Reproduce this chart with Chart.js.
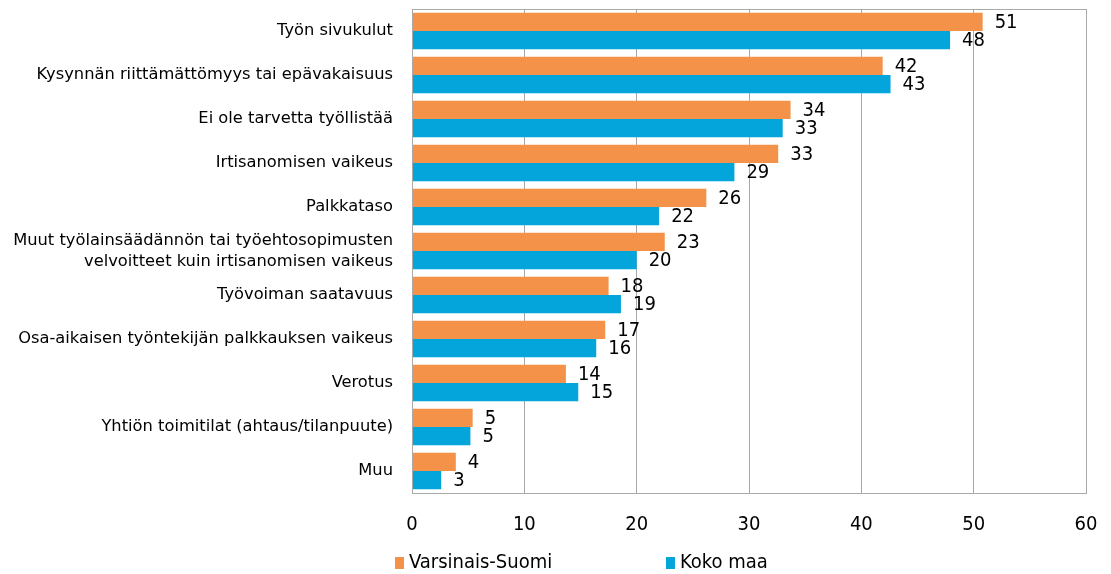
<!DOCTYPE html>
<html>
<head>
<meta charset="utf-8">
<script src="https://cdn.jsdelivr.net/npm/chart.js@4"></script>
<style>
	body { margin: 0; background: #fff; }
	#wrap { position: relative; width: 1111px; height: 574px; }
	#legend { position: absolute; left: 0; top: 549px; width: 1111px; height: 25px;
		font-family: 'DejaVu Sans Condensed', sans-serif; font-size: 20px; color: #000; }
	.item { position: absolute; top: 0; white-space: nowrap; }
	.box { display: inline-block; width: 9px; height: 12px; margin-right: 5px; vertical-align: -1px; }
</style>
</head>
<body>
<div id="wrap">
	<canvas id="chart" width="1111" height="574"></canvas>
	<div id="legend"></div>
</div>
<script>
// chart data
var categories = [
	"Työn sivukulut",
	"Kysynnän riittämättömyys tai epävakaisuus",
	"Ei ole tarvetta työllistää",
	"Irtisanomisen vaikeus",
	"Palkkataso",
	["Muut työlainsäädännön tai työehtosopimusten", "velvoitteet kuin irtisanomisen vaikeus"],
	"Työvoiman saatavuus",
	"Osa-aikaisen työntekijän palkkauksen vaikeus",
	"Verotus",
	"Yhtiön toimitilat (ahtaus/tilanpuute)",
	"Muu"
];
var seriesNames = ["Varsinais-Suomi", "Koko maa"];
var varsinaisSuomi = [50.8, 41.9, 33.7, 32.6, 26.2, 22.5, 17.5, 17.2, 13.7, 5.4, 3.9];
var kokoMaa = [47.9, 42.6, 33.0, 28.7, 22.0, 20.0, 18.6, 16.4, 14.8, 5.2, 2.6];
var xTicks = [0, 10, 20, 30, 40, 50, 60];

var orange = '#F39248';
var blue = '#03A5DB';
var gridColor = '#a9a9a9';
var narrowFont = "'DejaVu Sans Condensed', sans-serif";

// value labels at bar ends
var valueLabels = {
	id: 'valueLabels',
	afterDatasetsDraw: function (chart) {
		var ctx = chart.ctx;
		ctx.save();
		ctx.font = '20px ' + narrowFont;
		ctx.fillStyle = '#000';
		ctx.textAlign = 'left';
		ctx.textBaseline = 'middle';
		chart.data.datasets.forEach(function (ds, i) {
			chart.getDatasetMeta(i).data.forEach(function (bar, j) {
				ctx.fillText(Math.round(ds.data[j]), bar.x + 12, bar.y + 1);
			});
		});
		ctx.restore();
	}
};

// grey frame round the plot area
var plotFrame = {
	id: 'plotFrame',
	afterDraw: function (chart) {
		var a = chart.chartArea;
		var ctx = chart.ctx;
		ctx.save();
		ctx.strokeStyle = gridColor;
		ctx.lineWidth = 1;
		ctx.strokeRect(a.left + 0.5, a.top + 0.5, a.right - a.left, a.bottom - a.top);
		ctx.restore();
	}
};

new Chart(document.getElementById('chart'), {
	type: 'bar',
	data: {
		labels: categories,
		datasets: [{
			label: seriesNames[0],
			data: varsinaisSuomi,
			backgroundColor: orange,
			categoryPercentage: 0.83,
			barPercentage: 1.0
		},
		{
			label: seriesNames[1],
			data: kokoMaa,
			backgroundColor: blue,
			categoryPercentage: 0.83,
			barPercentage: 1.0
		}]
	},
	options: {
		indexAxis: 'y',
		responsive: false,
		animation: false,
		layout: { padding: { left: 0, top: 9, right: 25, bottom: 17 } },
		plugins: {
			legend: { display: false },
			tooltip: { enabled: false }
		},
		scales: {
			x: {
				min: 0,
				max: 60,
				afterBuildTicks: function (scale) {
					scale.ticks = xTicks.map(function (v) { return { value: v }; });
				},
				afterFit: function (scale) {
					scale.paddingLeft = 0;
					scale.paddingRight = 0;
				},
				grid: { color: gridColor, drawTicks: false },
				border: { color: gridColor },
				ticks: {
					padding: 20,
					color: '#000',
					font: { family: narrowFont, size: 20 }
				}
			},
			y: {
				afterFit: function (scale) {
					scale.width = 412;
					scale.paddingTop = 0;
					scale.paddingBottom = 0;
				},
				grid: { display: false, drawTicks: false },
				border: { color: gridColor },
				ticks: {
					autoSkip: false,
					padding: 19,
					color: '#000',
					font: { family: "'DejaVu Sans', sans-serif", size: 16.3, lineHeight: 1.3 }
				}
			}
		}
	},
	plugins: [valueLabels, plotFrame]
});

// legend below the chart
var legendEl = document.getElementById('legend');
var legendLeft = [395, 666];
var legendColors = [orange, blue];
seriesNames.forEach(function (name, i) {
	var item = document.createElement('span');
	item.className = 'item';
	item.style.left = legendLeft[i] + 'px';
	item.innerHTML = '<span class="box" style="background:' + legendColors[i] + '"></span>' + name;
	legendEl.appendChild(item);
});
</script>
</body>
</html>
